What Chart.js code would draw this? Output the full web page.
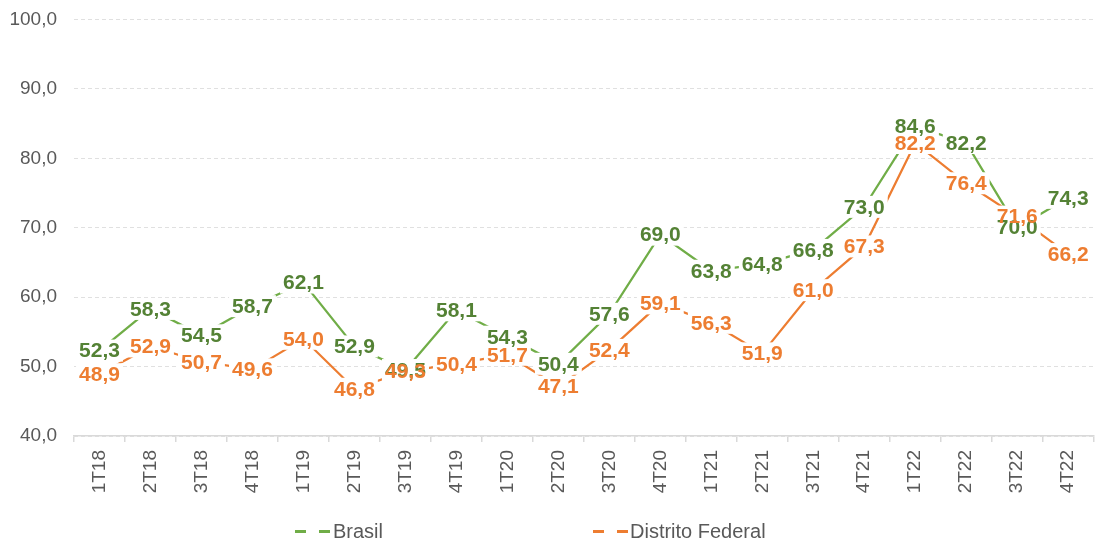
<!DOCTYPE html>
<html>
<head>
<meta charset="utf-8">
<script src="https://cdn.jsdelivr.net/npm/chart.js@4.4.1/dist/chart.umd.min.js"></script>
<style>
  html, body { margin: 0; padding: 0; background: #fff; overflow: hidden; width: 1097px; height: 545px; }
  #wrap { position: absolute; left: 0; top: -9px; width: 1099px; height: 554px; }
  #legend { position: absolute; left: 0; top: 0; width: 1097px; height: 545px; pointer-events: none;
            font-family: "Liberation Sans", Arial, sans-serif; font-size: 20px; color: #595959; }
  .item { position: absolute; top: 519px; height: 24px; line-height: 24px; white-space: nowrap; }
  .dash { position: absolute; top: 11px; width: 11px; height: 2.5px; }
  .txt { position: absolute; top: 0; }
</style>
</head>
<body>
<div id="wrap">
  <canvas id="c"></canvas>
</div>
<div id="legend"></div>
<script>
const categories = ["1T18","2T18","3T18","4T18","1T19","2T19","3T19","4T19","1T20","2T20","3T20","4T20","1T21","2T21","3T21","4T21","1T22","2T22","3T22","4T22"];
const brasil = [52.3, 58.3, 54.5, 58.7, 62.1, 52.9, 49.5, 58.1, 54.3, 50.4, 57.6, 69.0, 63.8, 64.8, 66.8, 73.0, 84.6, 82.2, 70.0, 74.3];
const distritoFederal = [48.9, 52.9, 50.7, 49.6, 54.0, 46.8, 49.3, 50.4, 51.7, 47.1, 52.4, 59.1, 56.3, 51.9, 61.0, 67.3, 82.2, 76.4, 71.6, 66.2];
const seriesNames = ["Brasil", "Distrito Federal"];
const yTicks = [40, 50, 60, 70, 80, 90, 100];

const lineColors = ["#70AD47", "#ED7D31"];
const labelColors = ["#548235", "#ED7D31"];
const FONT = '"Liberation Sans", Arial, sans-serif';
const fmt = v => v.toFixed(1).replace('.', ',');

const labelPlugin = {
  id: 'labels',
  afterDatasetsDraw(chart) {
    const ctx = chart.ctx;
    ctx.save();
    ctx.font = 'bold 21px ' + FONT;
    const items = [];
    chart.data.datasets.forEach((ds, i) => {
      const meta = chart.getDatasetMeta(i);
      meta.data.forEach((pt, j) => {
        const t = fmt(ds.data[j]);
        const w = ctx.measureText(t).width;
        items.push({x: pt.x, y: pt.y, t, w, c: labelColors[i]});
      });
    });
    ctx.fillStyle = '#fff';
    items.forEach(it => ctx.fillRect(it.x - it.w/2 - 3, it.y - 11, it.w + 6, 22));
    ctx.textAlign = 'center';
    ctx.textBaseline = 'middle';
    items.forEach(it => { ctx.fillStyle = it.c; ctx.fillText(it.t, it.x, it.y + 1); });
    ctx.restore();
  }
};

new Chart(document.getElementById('c'), {
  type: 'line',
  data: {
    labels: categories,
    datasets: [
      { label: seriesNames[0], data: brasil, borderColor: lineColors[0], backgroundColor: lineColors[0], borderWidth: 2.25, pointRadius: 0, tension: 0 },
      { label: seriesNames[1], data: distritoFederal, borderColor: lineColors[1], backgroundColor: lineColors[1], borderWidth: 2.25, pointRadius: 0, tension: 0 }
    ]
  },
  options: {
    responsive: true,
    maintainAspectRatio: false,
    animation: false,
    layout: { padding: { top: 10, left: 0, right: 0, bottom: 0 } },
    plugins: { legend: { display: false }, tooltip: { enabled: false } },
    scales: {
      x: {
        offset: true,
        grid: { offset: true, drawOnChartArea: false, drawTicks: true, tickLength: 6, color: '#d9d9d9', lineWidth: 1.5 },
        border: { display: true, color: '#d9d9d9', width: 1.5, dash: [8, 4] },
        ticks: { minRotation: 90, maxRotation: 90, autoSkip: false, padding: 8, color: '#595959', font: { family: FONT, size: 19 } },
        afterFit(s) { s.height = 109; }
      },
      y: {
        min: 40, max: 100,
        afterBuildTicks(s) { s.ticks = yTicks.map(v => ({ value: v })); },
        grid: { drawTicks: false, color: '#e0e0e0', lineWidth: 1 },
        border: { display: false, dash: [4, 3] },
        ticks: { padding: 17, color: '#595959', font: { family: FONT, size: 19 }, callback: v => fmt(v) },
        afterFit(s) { s.width = 74; }
      }
    }
  },
  plugins: [labelPlugin]
});

// legend
const leg = document.getElementById('legend');
const legPos = [{ sym: 295, txt: 333 }, { sym: 593, txt: 630 }];
seriesNames.forEach((name, i) => {
  const it = document.createElement('div');
  it.className = 'item';
  it.style.left = legPos[i].sym + 'px';
  const d1 = document.createElement('div'); d1.className = 'dash'; d1.style.left = '0px'; d1.style.background = lineColors[i];
  const d2 = document.createElement('div'); d2.className = 'dash'; d2.style.left = '24px'; d2.style.background = lineColors[i];
  const tx = document.createElement('span'); tx.className = 'txt'; tx.style.left = (legPos[i].txt - legPos[i].sym) + 'px'; tx.textContent = name;
  it.appendChild(d1); it.appendChild(d2); it.appendChild(tx);
  leg.appendChild(it);
});
</script>
</body>
</html>
